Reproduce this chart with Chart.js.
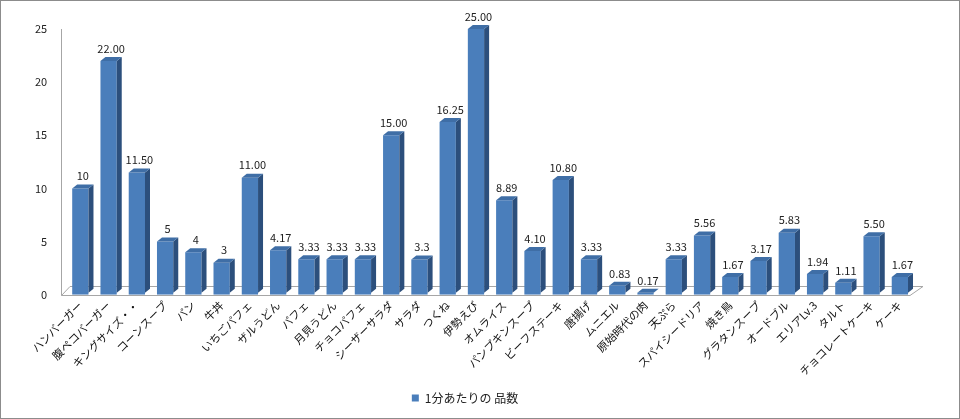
<!DOCTYPE html>
<html><head><meta charset="utf-8">
<script src="https://cdn.jsdelivr.net/npm/chart.js@4"></script>
<style>
html,body{margin:0;padding:0;background:#fff;}
#wrap{position:absolute;left:0;top:0;width:958px;height:417px;border:1px solid #8c8c8c;}
</style></head><body>
<div id="wrap"><canvas id="c" width="958" height="417"></canvas></div>
<script>
const categories = ["ハンバーガー","腹ペコバーガー","キングサイズ・・","コーンスープ","パン","牛丼","いちごパフェ","ザルうどん","パフェ","月見うどん","チョコパフェ","シーザーサラダ","サラダ","つくね","伊勢えび","オムライス","パンプキンスープ","ビーフステーキ","唐揚げ","ムニエル","原始時代の肉","天ぷら","スパイシードリア","焼き鳥","グラタンスープ","オードブル","エリアLv.3","タルト","チョコレートケーキ","ケーキ"];
const values = [10,22,11.5,5,4,3,11,4.17,3.33,3.33,3.33,15,3.3,16.25,25,8.89,4.10,10.80,3.33,0.83,0.17,3.33,5.56,1.67,3.17,5.83,1.94,1.11,5.50,1.67];
const valueLabels = ["10","22.00","11.50","5","4","3","11.00","4.17","3.33","3.33","3.33","15.00","3.3","16.25","25.00","8.89","4.10","10.80","3.33","0.83","0.17","3.33","5.56","1.67","3.17","5.83","1.94","1.11","5.50","1.67"];
const seriesName = "1分あたりの 品数";
const yTicks = [0,5,10,15,20,25];

const FONT = "'Noto Sans CJK JP','Noto Sans',sans-serif";
const DX = 5, DY = 4;

const bar3d = {
  id:'bar3d',
  beforeDatasetsDraw(chart){
    const ctx = chart.ctx, a = chart.chartArea;
    const b = Math.round(a.bottom), l = Math.round(a.left), r = Math.round(a.right);
    ctx.save();
    ctx.strokeStyle = '#a6a6a6';
    ctx.lineWidth = 1;
    ctx.beginPath();
    ctx.moveTo(l-5+0.5, Math.round(a.top)); ctx.lineTo(l-5+0.5, b+0.5);
    ctx.lineTo(r-4, b+0.5);
    ctx.lineTo(r+9, b-8.5); ctx.lineTo(l+4, b-8.5); ctx.lineTo(l-5+0.5, b+0.5);
    ctx.stroke();
    ctx.restore();
  },
  afterDatasetsDraw(chart){
    const ctx = chart.ctx;
    const meta = chart.getDatasetMeta(0);
    ctx.save();
    meta.data.forEach((el, i) => {
      const p = el.getProps(['x','y','base','width'], true);
      const x0 = p.x - p.width/2, x1 = p.x + p.width/2, y = p.y, base = p.base - 2;
      ctx.fillStyle = '#2c4f7c';
      ctx.beginPath();
      ctx.moveTo(x1, y); ctx.lineTo(x1+DX, y-DY); ctx.lineTo(x1+DX, base-DY); ctx.lineTo(x1, base); ctx.closePath(); ctx.fill();
      ctx.fillStyle = '#3f6ea6';
      ctx.beginPath();
      ctx.moveTo(x0, y); ctx.lineTo(x1, y); ctx.lineTo(x1+DX, y-DY); ctx.lineTo(x0+DX, y-DY); ctx.closePath(); ctx.fill();
      ctx.fillStyle = '#222';
      ctx.font = '11px ' + FONT;
      ctx.textAlign = 'center';
      ctx.textBaseline = 'bottom';
      ctx.fillText(valueLabels[i], p.x + DX/2, y - DY - 3);
    });
    ctx.restore();
  }
};

new Chart(document.getElementById('c'), {
  type:'bar',
  data:{ labels: categories, datasets:[{ label: seriesName, data: values, backgroundColor:'#4a7ebb', borderWidth:0, barPercentage:0.72, categoryPercentage:0.8 }]},
  options:{
    responsive:false, animation:false,
    layout:{ padding:{ top:28, right:45, left:15, bottom:4 } },
    plugins:{
      legend:{ position:'bottom', labels:{ boxWidth:7, boxHeight:7, color:'#222', font:{ size:12, family:FONT }, padding:10 } },
      tooltip:{ enabled:false }
    },
    scales:{
      x:{ grid:{ display:false, drawTicks:false }, border:{ display:false },
          ticks:{ minRotation:45, maxRotation:45, color:'#111', font:{ size:11, family:FONT }, padding:4, autoSkip:false } },
      y:{ min:0, max:25, grid:{ display:false, drawTicks:false }, border:{ display:false },
          afterBuildTicks(s){ s.ticks = yTicks.map(v=>({value:v})); },
          ticks:{ color:'#222', font:{ size:11, family:FONT }, padding:19 } }
    }
  },
  plugins:[bar3d]
});
</script>
</body></html>
